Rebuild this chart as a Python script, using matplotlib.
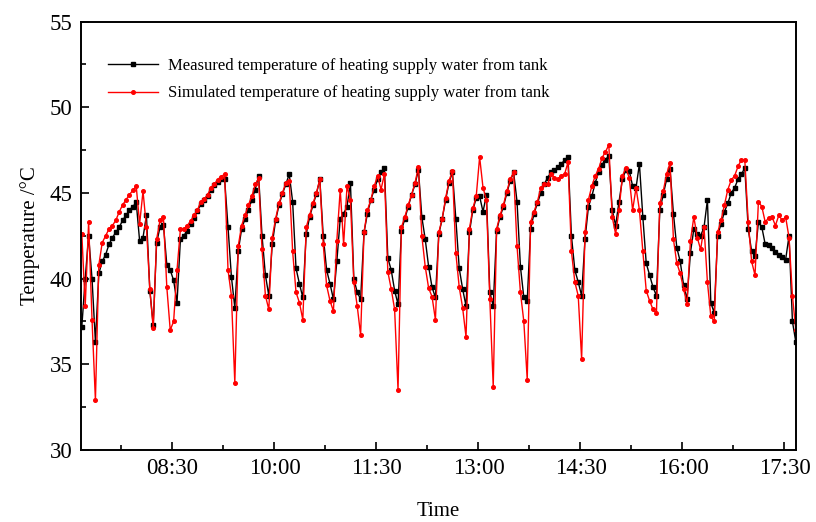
import matplotlib
matplotlib.use("Agg")
import matplotlib.pyplot as plt
import numpy as np
from matplotlib.ticker import FixedLocator

plt.rcParams['font.family'] = ['Liberation Serif', 'DejaVu Serif']

# samples every 3 minutes starting at 07:10
start_min = 430
step_min = 3

measured = [
    37.2, 40.0, 42.5, 40.0, 36.3, 40.3, 41.0, 41.4, 42.0, 42.4,
    42.7, 43.0, 43.4, 43.7, 44.0, 44.2, 44.45, 42.2, 42.4, 43.7,
    39.3, 37.3, 42.1, 43.0, 43.15, 40.8, 40.5, 39.9, 38.6, 42.3,
    42.5, 42.8, 43.2, 43.55, 43.95, 44.35, 44.6, 44.85, 45.15, 45.45,
    45.65, 45.8, 45.8, 43.0, 40.1, 38.3, 41.6, 42.9, 43.5, 44.0,
    44.6, 45.2, 46.0, 42.5, 40.2, 39.0, 42.0, 43.4, 44.3, 44.95,
    45.5, 46.1, 44.5, 40.6, 39.7, 38.9, 42.6, 43.6, 44.3, 44.95,
    45.8, 42.5, 40.5, 39.7, 38.8, 41.0, 43.5, 43.8, 44.2, 45.6,
    40.0, 39.2, 38.8, 42.7, 43.8, 44.6, 45.2, 45.8, 46.2, 46.45,
    41.2, 40.5, 39.3, 38.5, 42.8, 43.5, 44.2, 44.9, 45.5, 46.35,
    43.6, 42.3, 40.7, 39.5, 38.9, 42.6, 43.5, 44.6, 45.6, 46.2,
    43.5, 40.6, 39.4, 38.4, 42.7, 44.0, 44.7, 44.8, 43.9, 44.9,
    39.2, 38.4, 42.8, 43.6, 44.2, 45.0, 45.7, 46.2, 44.5, 40.7,
    38.9, 38.7, 42.9, 43.8, 44.4, 45.0, 45.5, 45.9, 46.2, 46.35,
    46.5, 46.7, 46.9, 47.1, 42.5, 40.5, 39.8, 39.0, 42.3, 44.2,
    44.8, 45.6, 46.2, 46.65, 46.95, 47.15, 44.0, 43.1, 44.5, 45.8,
    46.35, 46.3, 45.4, 45.3, 46.7, 43.6, 40.9, 40.2, 39.5, 39.0,
    44.0, 44.9, 45.8, 46.4, 43.8, 41.8, 41.0, 39.6, 38.8, 41.5,
    42.9, 42.6, 42.5, 43.0, 44.6, 38.6, 38.0, 42.5, 43.2, 43.9,
    44.4, 45.0, 45.3, 45.8, 46.1, 46.45, 42.9, 41.6, 41.3, 43.3,
    43.0, 42.0, 41.95, 41.8, 41.55, 41.4, 41.25, 41.1, 42.5, 37.5,
    36.3,
]

simulated = [
    42.6, 38.4, 43.3, 37.6, 32.9, 40.8, 42.1, 42.5, 42.9, 43.1,
    43.4, 43.9, 44.3, 44.6, 44.9, 45.15, 45.4, 43.2, 45.1, 43.0,
    39.4, 37.1, 42.3, 43.4, 43.6, 39.5, 37.0, 37.5, 40.5, 42.9,
    42.9, 43.1, 43.35, 43.7, 44.0, 44.5, 44.65, 44.9, 45.3, 45.55,
    45.75, 45.95, 46.1, 40.5, 39.0, 33.9, 41.9, 43.1, 43.7, 44.3,
    44.8, 45.5, 45.85, 41.7, 39.0, 38.2, 42.4, 43.5, 44.4, 45.0,
    45.6, 45.7, 41.6, 39.2, 38.6, 37.6, 43.0, 43.7, 44.4, 45.0,
    45.8, 42.0, 39.6, 38.7, 38.1, 42.2, 45.2, 42.0, 45.4, 44.6,
    39.8, 38.4, 36.7, 42.7, 44.0, 44.6, 45.4, 46.0, 45.2, 46.1,
    40.4, 39.4, 38.2, 33.5, 43.0, 43.6, 44.3, 44.9, 45.6, 46.5,
    42.5, 40.7, 39.45, 38.95, 37.6, 42.7, 43.5, 44.7, 45.7, 46.3,
    41.5, 39.5, 38.3, 36.6, 42.9, 44.1, 44.8, 47.1, 45.3, 44.6,
    38.8, 33.7, 42.9, 43.7, 44.3, 45.1, 45.8, 46.2, 41.9, 39.2,
    37.5, 34.1, 43.3, 43.9, 44.5, 45.3, 45.5, 45.5, 46.1, 45.9,
    45.8, 46.0, 46.1, 46.8, 41.6, 39.8, 39.0, 35.3, 42.7, 44.6,
    45.4, 46.0, 46.4, 47.05, 47.4, 47.8, 43.6, 42.6, 44.0, 46.0,
    46.45, 45.9, 44.0, 45.3, 44.0, 41.6, 39.3, 38.7, 38.2, 38.0,
    44.4, 45.1, 46.1, 46.75, 42.3, 40.9, 40.3, 39.4, 38.5, 42.2,
    43.6, 42.4, 41.7, 43.0, 39.8, 37.8, 37.5, 42.7, 43.4, 44.3,
    45.2, 45.75, 46.0, 46.55, 46.95, 46.9, 43.3, 41.0, 40.2, 44.5,
    44.2, 43.3, 43.55, 43.6, 43.1, 43.7, 43.4, 43.6, 42.4, 39.0,
    37.0,
]

tick_minutes = [510, 600, 690, 780, 870, 960, 1050]
tick_labels = ["08:30", "10:00", "11:30", "13:00", "14:30", "16:00", "17:30"]
minor_minutes = [465, 555, 645, 735, 825, 915, 1005]

minutes = start_min + step_min * np.arange(len(measured))

fig = plt.figure(figsize=(8.16, 5.22), dpi=100)
ax = fig.add_axes([0.0993, 0.138, 0.8757, 0.8206])

ax.plot(minutes, measured, color="black", lw=1.0, marker="s", ms=2.4,
        label="Measured temperature of heating supply water from tank")
ax.plot(minutes, simulated, color="red", lw=1.0, marker="o", ms=2.6,
        label="Simulated temperature of heating supply water from tank")

ax.set_xlim(429.3, 1059.8)
ax.set_ylim(30, 55)
ax.set_xticks(tick_minutes)
ax.set_xticklabels(tick_labels)
ax.xaxis.set_minor_locator(FixedLocator(minor_minutes))
ax.set_yticks([30, 35, 40, 45, 50, 55])
ax.yaxis.set_minor_locator(FixedLocator([32.5, 37.5, 42.5, 47.5, 52.5]))

ax.tick_params(which="both", direction="in", width=1.2, labelsize=16.5, pad=6)
ax.tick_params(which="major", length=6)
ax.tick_params(which="minor", length=3.5)
for s in ax.spines.values():
    s.set_linewidth(1.4)

ax.set_xlabel("Time", fontsize=15, labelpad=16)
ax.set_ylabel("Temperature /\u00b0C", fontsize=15, labelpad=7)

ax.legend(loc="upper left", bbox_to_anchor=(0.017, 0.95), frameon=False,
          fontsize=12, handlelength=3.0, handletextpad=0.6, labelspacing=0.68)

fig.savefig("out.png", dpi=100)
